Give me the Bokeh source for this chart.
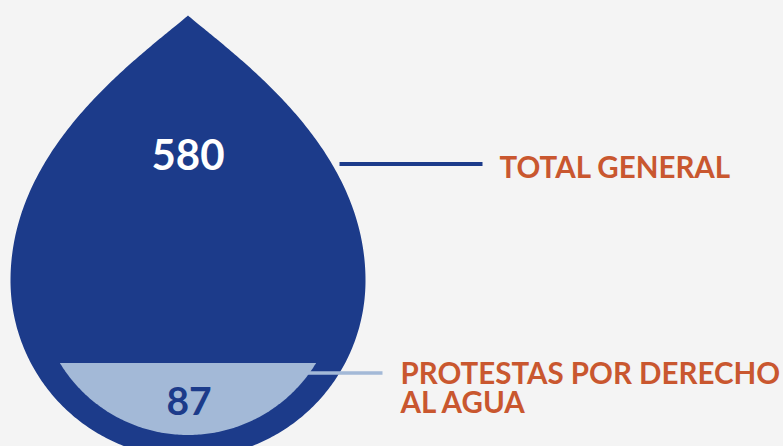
import numpy as np
from bokeh.plotting import figure
from bokeh.models import Range1d, ColumnDataSource
from bokeh.core.properties import value
from bokeh.embed import file_html
from bokeh.resources import INLINE

# ---- data ----
CATEGORIES = ["TOTAL GENERAL", "PROTESTAS POR DERECHO\nAL AGUA"]
VALUES = [580, 87]

# ---- style ----
BG = "#f4f4f4"
DARK = "#1c3b8a"
LIGHT = "#a3b9d7"
ORANGE = "#c9572f"
FONT = "Lato"

W, H = 783, 446
p = figure(width=W, height=H, output_backend="svg", toolbar_location=None,
           x_range=Range1d(0, W), y_range=Range1d(H, 0),
           x_axis_type=None, y_axis_type=None, min_border=0)
p.grid.visible = False
p.outline_line_color = None
p.background_fill_color = BG
p.border_fill_color = BG


def bez(P0, P1, P2, P3, n=120):
    t = np.linspace(0, 1, n)[:, None]
    P0, P1, P2, P3 = map(np.array, (P0, P1, P2, P3))
    return ((1 - t) ** 3) * P0 + 3 * ((1 - t) ** 2) * t * P1 + 3 * (1 - t) * t ** 2 * P2 + t ** 3 * P3


def drop(cx, cy, r, tip):
    h = cy - tip
    right = bez((cx, tip), (cx + 0.30 * r, tip + 0.17 * h),
                (cx + r, cy - 0.50 * h), (cx + r, cy))
    ang = np.linspace(0, np.pi, 240)
    arc = np.column_stack([cx + r * np.cos(ang), cy + r * np.sin(ang)])
    left = right[::-1].copy()
    left[:, 0] = 2 * cx - left[:, 0]
    pts = np.vstack([right, arc[1:], left[1:]])
    return pts[:, 0], pts[:, 1]


def area(xs, ys):
    return 0.5 * abs(np.dot(xs, np.roll(ys, -1)) - np.dot(ys, np.roll(xs, -1)))


def clip_below(xs, ys, L):
    out = []
    n = len(xs)
    for i in range(n):
        x0, y0 = xs[i], ys[i]
        x1, y1 = xs[(i + 1) % n], ys[(i + 1) % n]
        in0, in1 = y0 >= L, y1 >= L
        if in0:
            out.append((x0, y0))
        if in0 != in1:
            t = (L - y0) / (y1 - y0)
            out.append((x0 + t * (x1 - x0), L))
    a = np.array(out)
    return a[:, 0], a[:, 1]


# outer drop
CX, CY, R, TIP = 187.5, 280.0, 177.5, 15.0
ox, oy = drop(CX, CY, R, TIP)
p.patch(ox, oy, fill_color=DARK, line_color=None)

# inner drop (reference for fill level), fill proportional to area
s = 150.0 / R
icy = 284.5
ix, iy = drop(CX, icy, R * s, icy - (CY - TIP) * s * 1.15)
A = area(ix, iy)
frac = VALUES[1] / VALUES[0]
lo, hi = iy.min(), iy.max()
for _ in range(60):
    mid = 0.5 * (lo + hi)
    fx, fy = clip_below(ix, iy, mid)
    if area(fx, fy) > frac * A:
        lo = mid
    else:
        hi = mid
fx, fy = clip_below(ix, iy, 0.5 * (lo + hi))
p.patch(fx, fy, fill_color=LIGHT, line_color=None)

# leader lines
lines = ColumnDataSource(dict(x0=[339, 305], x1=[482, 382], y0=[163.5, 372.5], y1=[163.5, 372.5],
                              c=[DARK, LIGHT], w=[4, 3.5]))
p.segment("x0", "y0", "x1", "y1", source=lines, line_color="c", line_width="w")

# category labels (one text item per line)
label_x = [499, 400]
label_y = [166, 372]
LINE_STEP = 29
tx, ty, tt = [], [], []
for x0, y0, cat in zip(label_x, label_y, CATEGORIES):
    for j, line in enumerate(cat.split("\n")):
        tx.append(x0)
        ty.append(y0 + j * LINE_STEP)
        tt.append(line)
p.text(x=tx, y=ty, text=tt, text_font=value(FONT),
       text_font_style="bold", text_font_size="29.5px", text_color=ORANGE,
       text_baseline="alphabetic", text_align="left")

# value labels
p.text(x=[187.5, 188.5], y=[154, 400], text=[str(v) for v in VALUES], text_font=value(FONT),
       text_font_style="bold", text_font_size=["42px", "39px"], text_color=["white", DARK],
       text_baseline="alphabetic", text_align="center")

html = file_html(p, INLINE)
html = html.replace("<head>", "<head><style>html,body{background:%s;}</style>" % BG, 1)
open("out.html", "w").write(html)
